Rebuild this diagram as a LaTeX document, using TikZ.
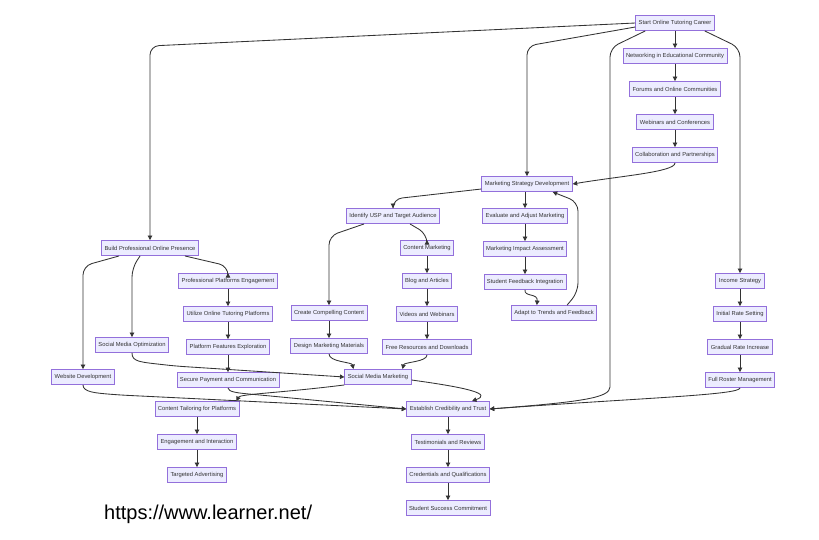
\documentclass[tikz,border=0pt]{standalone}
\usepackage{fontspec}
\setmainfont{Liberation Sans}
\usetikzlibrary{arrows.meta,positioning,calc}
\definecolor{boxfill}{HTML}{ECECFF}
\definecolor{boxline}{HTML}{9370DB}
\definecolor{ink}{HTML}{333333}

\tikzset{
  stepbox/.style={draw=boxline, fill=boxfill, line width=0.9pt, text=ink,
    font=\fontsize{5.8}{7}\selectfont, inner xsep=3pt, inner ysep=0pt,
    minimum height=15pt},
  link/.style={draw=ink, line width=0.85pt, rounded corners=9pt,
    -{Triangle[length=4.5pt,width=4.5pt]}},
}

\begin{document}
\begin{tikzpicture}[x=1pt, y=-1pt, node distance=17.1pt]
    \useasboundingbox[fill=white] (0,0) rectangle (819,539);

    % networking column
    \node[stepbox] (start) at (675,23) {Start Online Tutoring Career};
    \node[stepbox, below=of start] (net) {Networking in Educational Community};
    \node[stepbox, below=of net] (forums) {Forums and Online Communities};
    \node[stepbox, below=of forums] (webinars) {Webinars and Conferences};
    \node[stepbox, below=of webinars] (collab) {Collaboration and Partnerships};

    % marketing strategy
    \node[stepbox] (msd) at (527,184) {Marketing Strategy Development};
    \node[stepbox] (usp) at (393,216) {Identify USP and Target Audience};
    \node[stepbox] (eval) at (525,216) {Evaluate and Adjust Marketing};
    \node[stepbox, below=of eval] (mia) {Marketing Impact Assessment};
    \node[stepbox, below=of mia] (sfi) {Student Feedback Integration};
    \node[stepbox] (adapt) at (554,313) {Adapt to Trends and Feedback};
    \node[stepbox] (cmkt) at (427,248) {Content Marketing};
    \node[stepbox, below=of cmkt] (blog) {Blog and Articles};
    \node[stepbox, below=of blog] (videos) {Videos and Webinars};
    \node[stepbox, below=of videos] (free) {Free Resources and Downloads};
    \node[stepbox] (ccc) at (329,313) {Create Compelling Content};
    \node[stepbox, below=of ccc] (dmm) {Design Marketing Materials};
    \node[stepbox] (smm) at (378,377) {Social Media Marketing};

    % online presence
    \node[stepbox] (bpop) at (150,248) {Build Professional Online Presence};
    \node[stepbox] (ppe) at (228,281) {Professional Platforms Engagement};
    \node[stepbox, below=of ppe] (uotp) {Utilize Online Tutoring Platforms};
    \node[stepbox, below=of uotp] (pfe) {Platform Features Exploration};
    \node[stepbox, below=of pfe] (spc) {Secure Payment and Communication};
    \node[stepbox] (smo) at (132,345) {Social Media Optimization};
    \node[stepbox] (web) at (83,377) {Website Development};
    \node[stepbox] (ctp) at (197,409) {Content Tailoring for Platforms};
    \node[stepbox, below=of ctp] (eai) {Engagement and Interaction};
    \node[stepbox, below=of eai] (tadv) {Targeted Advertising};

    % credibility
    \node[stepbox] (ect) at (448,409) {Establish Credibility and Trust};
    \node[stepbox, below=of ect] (trev) {Testimonials and Reviews};
    \node[stepbox, below=of trev] (cq) {Credentials and Qualifications};
    \node[stepbox, below=of cq] (ssc) {Student Success Commitment};

    % income
    \node[stepbox] (income) at (740,281) {Income Strategy};
    \node[stepbox, below=of income] (irs) {Initial Rate Setting};
    \node[stepbox, below=of irs] (gri) {Gradual Rate Increase};
    \node[stepbox, below=of gri] (frm) {Full Roster Management};

    \node[font=\fontsize{20}{24}\selectfont, anchor=base west, inner sep=0pt]
        (url) at (104,519) {https://www.learner.net/};

    % straight chains
    \draw[link] (start) -- (net);
    \draw[link] (net) -- (forums);
    \draw[link] (forums) -- (webinars);
    \draw[link] (webinars) -- (collab);
    \draw[link] (msd.south -| eval) -- (eval);
    \draw[link] (eval) -- (mia);
    \draw[link] (mia) -- (sfi);
    \draw[link] (cmkt) -- (blog);
    \draw[link] (blog) -- (videos);
    \draw[link] (videos) -- (free);
    \draw[link] (ccc) -- (dmm);
    \draw[link] (ppe) -- (uotp);
    \draw[link] (uotp) -- (pfe);
    \draw[link] (pfe) -- (spc);
    \draw[link] (ctp) -- (eai);
    \draw[link] (eai) -- (tadv);
    \draw[link] (ect) -- (trev);
    \draw[link] (trev) -- (cq);
    \draw[link] (cq) -- (ssc);
    \draw[link] (income) -- (irs);
    \draw[link] (irs) -- (gri);
    \draw[link] (gri) -- (frm);

    % out of the start node
    \draw[link] (start.west) -- (150,46) -- (bpop.north);
    \draw[link] ($(start.west)+(0,4)$) -- (527,46) -- (msd.north);
    \draw[link] ($(start.south west)+(10,0)$) -- (610,48) -- (610,378)
        .. controls (610,398) and (580,402) .. (ect.east);
    \draw[link] ($(start.south east)+(-10,0)$) -- (740,48) -- (income.north);

    % marketing loop
    \draw[link] (collab.south) .. controls (675,172) and (620,176) .. (msd.east);
    \draw[link] ($(msd.west)+(0,5)$) -- (393,199) -- (usp.north);
    \draw[link] (sfi.south) .. controls (524,297) and (538,293)
        .. ($(adapt.north west)+(26,0)$);
    \draw[link] ($(adapt.north east)+(-30,0)$) -- (578,292) -- (578,202)
        -- ($(msd.south east)+(-20,0)$);
    \draw[link] ($(usp.south west)+(18,0)$) -- (329,236) -- (ccc.north);
    \draw[link] ($(usp.south east)+(-30,0)$) -- (427,234) -- (cmkt.north);
    \draw[link] (dmm.south) .. controls (329,362) and (352,362)
        .. ($(smm.north west)+(9,0)$);
    \draw[link] (free.south) .. controls (427,362) and (404,362)
        .. ($(smm.north east)+(-9,0)$);

    % online presence branches
    \draw[link] ($(bpop.south west)+(18,0)$) -- (83,266) -- (web.north);
    \draw[link] ($(bpop.south west)+(39,0)$) -- (132,268) -- (smo.north);
    \draw[link] ($(bpop.south east)+(-14,0)$) -- (228,266) -- (ppe.north);
    \draw[link] (smo.south) .. controls (132,362) and (140,362) .. (175,366)
        -- (smm.west);
    \draw[link] (smm.south west) .. controls (280,393) and (240,394)
        .. ($(ctp.north east)+(-3,0)$);

    % into credibility
    \draw[link] (web.south) .. controls (83,392) and (95,393) .. (120,395)
        -- (ect.west);
    \draw[link] (spc.south) .. controls (228,392) and (238,393) .. (260,395)
        -- (ect.west);
    \draw[link] ($(smm.east)+(0,3)$) .. controls (470,388) and (492,394)
        .. ($(ect.north)+(24,0)$);
    \draw[link] (frm.south) .. controls (740,395) and (640,398) .. (ect.east);
\end{tikzpicture}
\end{document}
